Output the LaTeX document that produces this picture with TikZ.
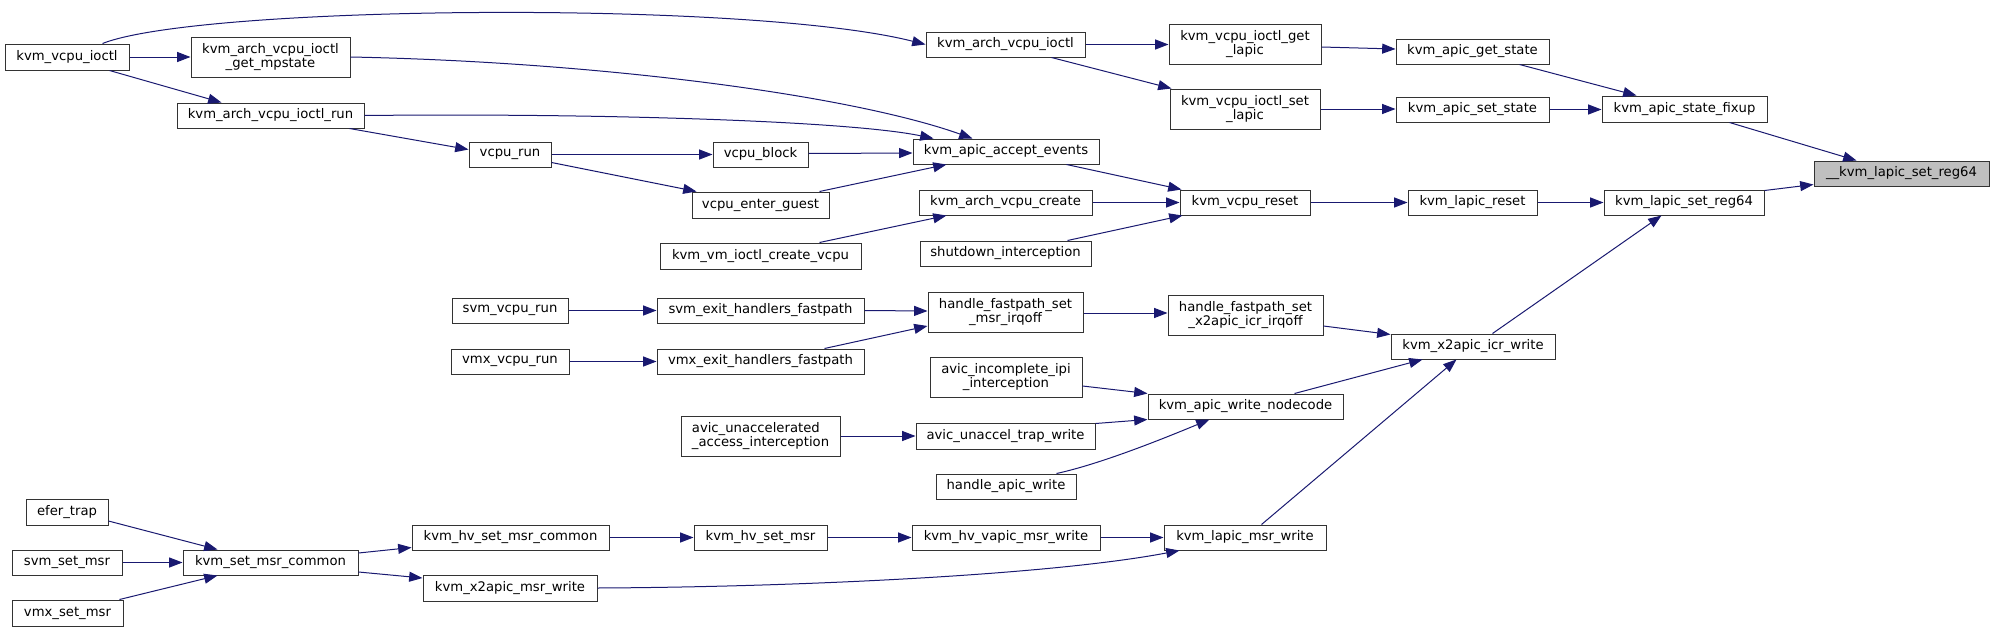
\documentclass[tikz,border=0pt]{standalone}
\usepackage{fontspec}
\setmainfont{DejaVu Sans}
\usetikzlibrary{arrows.meta,calc}
\definecolor{edgeblue}{HTML}{191970}
\definecolor{boxline}{HTML}{333333}
\definecolor{hilite}{HTML}{BFBFBF}
\tikzset{
  box/.style={draw=boxline, line width=0.75pt, rectangle, inner sep=0pt, fill=white,
    font=\fontsize{9.9}{10.75}\selectfont, align=center},
  hl/.style={fill=hilite},
  edge/.style={draw=edgeblue, line width=0.75pt, -{Triangle[length=10pt,width=7.5pt]}, edgeblue}
}
\newcommand\bx[7][]{\node[box,#1, minimum width={(#5-#3)*0.75pt}, minimum height={(#6-#4)*0.75pt}] (#2) at ({(#3+#5)/2},{(#4+#6)/2}) {#7};}
\begin{document}
\begin{tikzpicture}[x=0.75pt,y=-0.75pt]
\useasboundingbox (0,0) rectangle (1995,632);
% nodes
\bx{vioctl}{5}{44}{129}{70}{kvm\_vcpu\_ioctl}
\bx{getmp}{191}{37}{350}{77}{kvm\_arch\_vcpu\_ioctl\\\_get\_mpstate}
\bx{ioctlrun}{177}{103}{364}{128}{kvm\_arch\_vcpu\_ioctl\_run}
\bx{vcpurun}{469}{142}{551}{167}{vcpu\_run}
\bx{vcpublock}{713}{142}{808}{167}{vcpu\_block}
\bx{enterguest}{692}{192}{829}{218}{vcpu\_enter\_guest}
\bx{accept}{913}{139}{1099}{164}{kvm\_apic\_accept\_events}
\bx{archioctl}{926}{32}{1085}{57}{kvm\_arch\_vcpu\_ioctl}
\bx{archcreate}{919}{190}{1092}{215}{kvm\_arch\_vcpu\_create}
\bx{vmcreate}{660}{243}{861}{269}{kvm\_vm\_ioctl\_create\_vcpu}
\bx{shutdown}{920}{241}{1091}{266}{shutdown\_interception}
\bx{reset}{1180}{190}{1310}{215}{kvm\_vcpu\_reset}
\bx{lapicreset}{1408}{190}{1537}{215}{kvm\_lapic\_reset}
\bx{setreg64}{1604}{190}{1764}{215}{kvm\_lapic\_set\_reg64}
\bx[hl]{target}{1814}{161}{1989}{186}{\_\_kvm\_lapic\_set\_reg64}
\bx{fixup}{1602}{96}{1767}{122}{kvm\_apic\_state\_fixup}
\bx{getstate}{1396}{39}{1549}{64}{kvm\_apic\_get\_state}
\bx{setstate}{1396}{97}{1549}{122}{kvm\_apic\_set\_state}
\bx{getlapic}{1169}{24}{1321}{64}{kvm\_vcpu\_ioctl\_get\\\_lapic}
\bx{setlapic}{1170}{89}{1320}{129}{kvm\_vcpu\_ioctl\_set\\\_lapic}
\bx{svmrun}{452}{298}{568}{323}{svm\_vcpu\_run}
\bx{vmxrun}{451}{349}{569}{374}{vmx\_vcpu\_run}
\bx{svmfast}{657}{298}{864}{323}{svm\_exit\_handlers\_fastpath}
\bx{vmxfast}{657}{349}{864}{374}{vmx\_exit\_handlers\_fastpath}
\bx{fastmsr}{928}{292}{1083}{332}{handle\_fastpath\_set\\\_msr\_irqoff}
\bx{avicipi}{930}{357}{1082}{397}{avic\_incomplete\_ipi\\\_interception}
\bx{fastx2}{1168}{295}{1323}{335}{handle\_fastpath\_set\\\_x2apic\_icr\_irqoff}
\bx{icrwrite}{1391}{334}{1555}{359}{kvm\_x2apic\_icr\_write}
\bx{nodecode}{1148}{394}{1343}{419}{kvm\_apic\_write\_nodecode}
\bx[align=left]{avicacc}{681}{416}{840}{456}{avic\_unaccelerated\\\_access\_interception}
\bx{trapwrite}{916}{423}{1095}{449}{avic\_unaccel\_trap\_write}
\bx{apicwrite}{936}{474}{1076}{499}{handle\_apic\_write}
\bx{msrwrite}{1164}{525}{1326}{550}{kvm\_lapic\_msr\_write}
\bx{efer}{26}{499}{108}{525}{efer\_trap}
\bx{svmset}{12}{550}{122}{575}{svm\_set\_msr}
\bx{vmxset}{12}{600}{123}{626}{vmx\_set\_msr}
\bx{msrcommon}{183}{550}{358}{575}{kvm\_set\_msr\_common}
\bx{hvcommon}{412}{525}{609}{550}{kvm\_hv\_set\_msr\_common}
\bx{x2msr}{423}{575}{597}{601}{kvm\_x2apic\_msr\_write}
\bx{hvset}{694}{525}{827}{550}{kvm\_hv\_set\_msr}
\bx{hvvapic}{912}{525}{1100}{550}{kvm\_hv\_vapic\_msr\_write}
% edges
\draw[edge] ($(vioctl.north west)+(98,0)$) .. controls (200,5) and (750,0) .. (archioctl.west);
\draw[edge] (vioctl.east) -- (getmp.west);
\draw[edge] ($(vioctl.south west)+(105,0)$) -- ($(ioctlrun.north west)+(45,0)$);
\draw[edge] (getmp.east) .. controls (600,62) and (850,95) .. ($(accept.north west)+(60,0)$);
\draw[edge] (ioctlrun.east) .. controls (600,113) and (850,121) .. ($(accept.north west)+(21,0)$);
\draw[edge] ($(ioctlrun.south west)+(173,0)$) -- ($(vcpurun.west)+(0,-5)$);
\draw[edge] (vcpurun.east) -- (vcpublock.west);
\draw[edge] ($(vcpurun.east)+(0,8)$) -- ($(enterguest.north west)+(5,0)$);
\draw[edge] ($(vcpublock.east)+(0,-1)$) -- ($(accept.west)+(0,1.5)$);
\draw[edge] ($(enterguest.north west)+(128,0)$) -- ($(accept.south west)+(34,0)$);
\draw[edge] (archioctl.east) -- (getlapic.west |- archioctl.east);
\draw[edge] ($(archioctl.south west)+(126,0)$) -- ($(setlapic.north west)+(2,0)$);
\draw[edge] ($(getlapic.east)+(0,3)$) -- ($(getstate.west)+(0,-2.5)$);
\draw[edge] (setlapic.east) -- (setstate.west |- setlapic.east);
\draw[edge] ($(getstate.south west)+(124,0)$) -- ($(fixup.north west)+(35,0)$);
\draw[edge] (setstate.east) -- (fixup.west |- setstate.east);
\draw[edge] ($(fixup.south west)+(128,0)$) -- ($(target.north west)+(43,0)$);
\draw[edge] ($(accept.south west)+(154,0)$) -- ($(reset.north west)+(2,0)$);
\draw[edge] (archcreate.east) -- (reset.west |- archcreate.east);
\draw[edge] ($(vmcreate.north west)+(160,0)$) -- ($(archcreate.south west)+(28,0)$);
\draw[edge] ($(shutdown.north west)+(148,0)$) -- ($(reset.south west)+(3,0)$);
\draw[edge] (reset.east) -- (lapicreset.west);
\draw[edge] (lapicreset.east) -- (setreg64.west);
\draw[edge] ($(setreg64.north east)+(0,1)$) -- ($(target.south west)+(0,-2)$);
\draw[edge] ($(icrwrite.north west)+(102,0)$) -- ($(setreg64.south west)+(58,0)$);
\draw[edge] (svmrun.east) -- (svmfast.west);
\draw[edge] (vmxrun.east) -- (vmxfast.west);
\draw[edge] (svmfast.east) -- ($(fastmsr.west)+(0,-1)$);
\draw[edge] ($(vmxfast.north west)+(168,0)$) -- ($(fastmsr.west)+(0,14)$);
\draw[edge] ($(fastmsr.east)+(0,1)$) -- ($(fastx2.west)+(0,-2)$);
\draw[edge] ($(fastx2.east)+(0,11)$) -- ($(icrwrite.north west)+(0,1)$);
\draw[edge] ($(nodecode.north west)+(147,0)$) -- ($(icrwrite.south west)+(32,0)$);
\draw[edge] ($(msrwrite.north west)+(98,0)$) -- ($(icrwrite.south west)+(66,0)$);
\draw[edge] ($(avicipi.east)+(0,9)$) -- (nodecode.north west);
\draw[edge] (avicacc.east) -- (trapwrite.west);
\draw[edge] ($(trapwrite.north east)+(0,1)$) -- (nodecode.south west);
\draw[edge] ($(apicwrite.north west)+(121,0)$) .. controls (1100,464) and (1160,440) .. ($(nodecode.south west)+(62,0)$);
\draw[edge] ($(efer.east)+(0,9)$) -- ($(msrcommon.north west)+(35,0)$);
\draw[edge] (svmset.east) -- (msrcommon.west);
\draw[edge] ($(vmxset.north west)+(108,0)$) -- ($(msrcommon.south west)+(35,0)$);
\draw[edge] ($(msrcommon.east)+(0,-9.5)$) -- ($(hvcommon.west)+(0,10)$);
\draw[edge] ($(msrcommon.east)+(0,9.5)$) -- ($(x2msr.west)+(0,-10)$);
\draw[edge] (hvcommon.east) -- (hvset.west);
\draw[edge] (hvset.east) -- (hvvapic.west);
\draw[edge] (hvvapic.east) -- (msrwrite.west);
\draw[edge] (x2msr.east) .. controls (800,587) and (1050,575) .. ($(msrwrite.south west)+(16,0)$);
\end{tikzpicture}
\end{document}
